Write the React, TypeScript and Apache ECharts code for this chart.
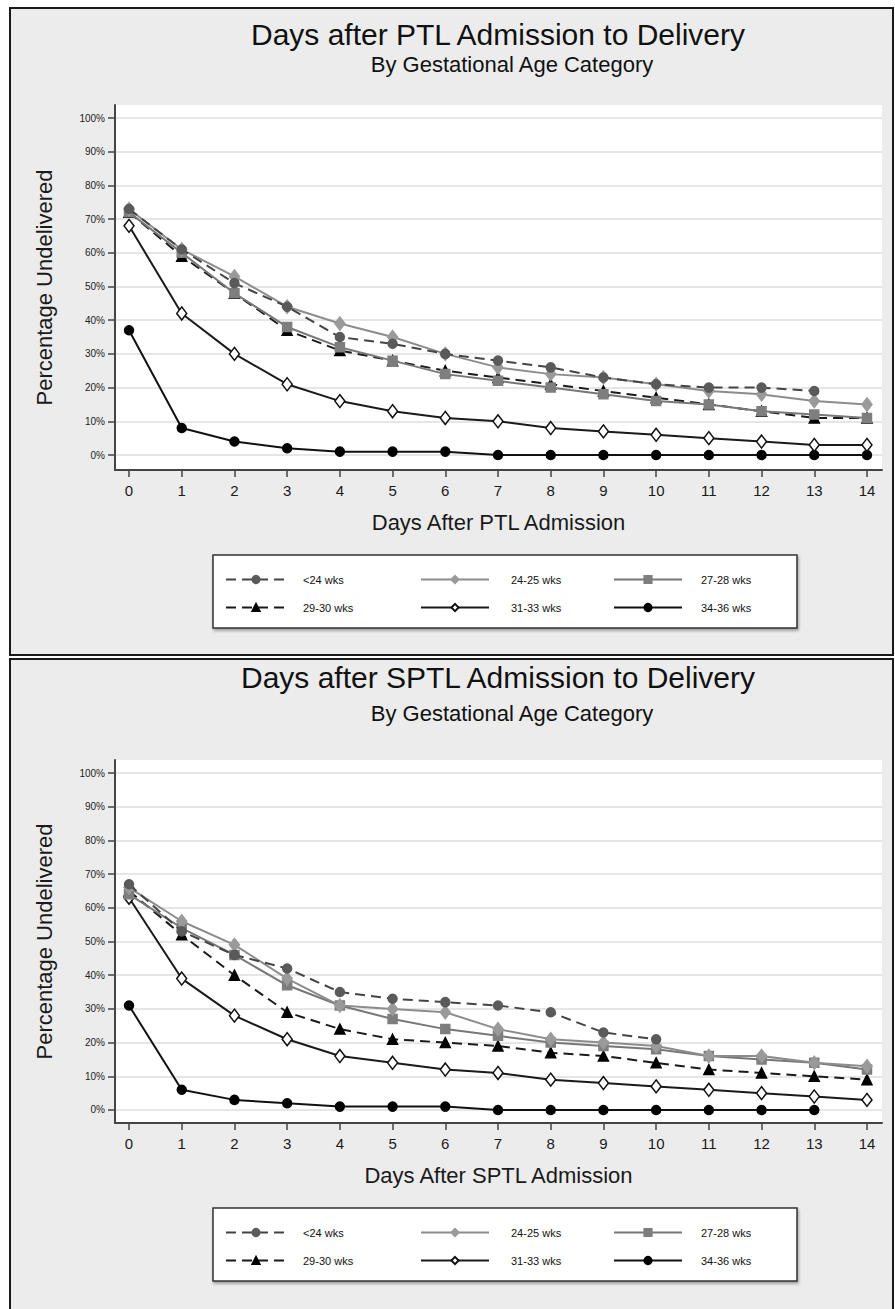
import React, { useEffect, useRef } from "react";
import * as echarts from "echarts";

// ---------- data ----------
const days = [0, 1, 2, 3, 4, 5, 6, 7, 8, 9, 10, 11, 12, 13, 14];
const yTicks = [0, 10, 20, 30, 40, 50, 60, 70, 80, 90, 100];
const groupNames = ["<24 wks", "24-25 wks", "27-28 wks", "29-30 wks", "31-33 wks", "34-36 wks"];

// PTL (top chart)
const ptlLt24 = [73, 61, 51, 44, 35, 33, 30, 28, 26, 23, 21, 20, 20, 19];
const ptl2425 = [73, 61, 53, 44, 39, 35, 30, 26, 24, 23, 21, 19, 18, 16, 15];
const ptl2728 = [72, 60, 48, 38, 32, 28, 24, 22, 20, 18, 16, 15, 13, 12, 11];
const ptl2930 = [72, 59, 48, 37, 31, 28, 25, 23, 21, 19, 17, 15, 13, 11, 11];
const ptl3133 = [68, 42, 30, 21, 16, 13, 11, 10, 8, 7, 6, 5, 4, 3, 3];
const ptl3436 = [37, 8, 4, 2, 1, 1, 1, 0, 0, 0, 0, 0, 0, 0, 0];

// SPTL (bottom chart)
const sptlLt24 = [67, 53, 46, 42, 35, 33, 32, 31, 29, 23, 21];
const sptl2425 = [66, 56, 49, 39, 31, 30, 29, 24, 21, 20, 19, 16, 16, 14, 13];
const sptl2728 = [64, 54, 46, 37, 31, 27, 24, 22, 20, 19, 18, 16, 15, 14, 12];
const sptl2930 = [65, 52, 40, 29, 24, 21, 20, 19, 17, 16, 14, 12, 11, 10, 9];
const sptl3133 = [63, 39, 28, 21, 16, 14, 12, 11, 9, 8, 7, 6, 5, 4, 3];
const sptl3436 = [31, 6, 3, 2, 1, 1, 1, 0, 0, 0, 0, 0, 0, 0];

const ptlSets = [ptlLt24, ptl2425, ptl2728, ptl2930, ptl3133, ptl3436];
const sptlSets = [sptlLt24, sptl2425, sptl2728, sptl2930, sptl3133, sptl3436];

// ---------- styles ----------
const FONT = "Liberation Sans, Arial, sans-serif";
const seriesStyles = [
  { symbol: "circle", size: 9, fill: "#5a5a5a", border: "#5a5a5a", line: "#444", dash: [10, 6] as any },
  { symbol: "diamond", size: [10, 13], fill: "#9a9a9a", border: "#9a9a9a", line: "#8c8c8c", dash: "solid" },
  { symbol: "rect", size: 9, fill: "#7e7e7e", border: "#7e7e7e", line: "#777", dash: "solid" },
  { symbol: "triangle", size: 10, fill: "#000", border: "#000", line: "#1a1a1a", dash: [10, 6] as any },
  { symbol: "diamond", size: [10, 13], fill: "#fff", border: "#111", line: "#1a1a1a", dash: "solid" },
  { symbol: "circle", size: 9, fill: "#000", border: "#000", line: "#111", dash: "solid" },
];

function buildSeries(sets: number[][], gridIndex: number) {
  return sets.map((vals, i) => {
    const s = seriesStyles[i];
    return {
      type: "line",
      name: groupNames[i],
      xAxisIndex: gridIndex,
      yAxisIndex: gridIndex,
      data: vals.map((v, k) => [days[k], v]),
      symbol: s.symbol,
      symbolSize: s.size,
      showAllSymbol: true,
      lineStyle: { color: s.line, width: 2, type: s.dash },
      itemStyle: { color: s.fill, borderColor: s.border, borderWidth: 1.5 },
      z: 3 + (5 - i),
    };
  });
}

function xAxisDef(gridIndex: number, name: string) {
  return {
    type: "value",
    gridIndex,
    min: -0.266,
    max: 14.285,
    name,
    nameLocation: "middle",
    nameGap: 41,
    nameTextStyle: { fontFamily: FONT, fontSize: 22, color: "#1a1a1a" },
    axisLine: { show: true, onZero: false, lineStyle: { color: "#444", width: 2 } },
    axisTick: { show: true, length: 7, customValues: days, lineStyle: { color: "#444", width: 1.5 } },
    axisLabel: { customValues: days, fontFamily: FONT, fontSize: 15, color: "#1a1a1a", margin: 13 },
    splitLine: { show: false },
  };
}

function yAxisDef(gridIndex: number, min: number) {
  return {
    type: "value",
    gridIndex,
    min,
    max: 103.86,
    name: "Percentage Undelivered",
    nameLocation: "middle",
    nameGap: 60,
    nameTextStyle: { fontFamily: FONT, fontSize: 22, color: "#1a1a1a" },
    axisLine: { show: true, onZero: false, lineStyle: { color: "#444", width: 2 } },
    axisTick: { show: true, length: 7, customValues: yTicks, lineStyle: { color: "#444", width: 1.5 } },
    axisLabel: {
      customValues: yTicks,
      formatter: "{value}%",
      fontFamily: FONT,
      fontSize: 10,
      color: "#222",
      margin: 10,
    },
    splitLine: { show: true, lineStyle: { color: "#dedede", width: 1.5 } },
  };
}

function legendDefs(rowTops: number[]) {
  const cols = [
    { left: 225, w: 60, pad: 12 },
    { left: 420, w: 68, pad: 17 },
    { left: 613, w: 68, pad: 14 },
  ];
  return groupNames.map((n, i) => {
    const c = cols[i % 3];
    return {
      data: [n],
      left: c.left,
      top: rowTops[Math.floor(i / 3)],
      orient: "horizontal",
      padding: 0,
      itemWidth: c.w,
      itemHeight: 9,
      selectedMode: false,
      textStyle: { fontFamily: FONT, fontSize: 11, color: "#111", padding: [0, 0, 0, c.pad] },
    };
  });
}

export default function App() {
  const ref = useRef<HTMLDivElement>(null);
  useEffect(() => {
    if (!ref.current) return;
    const chart = echarts.init(ref.current, undefined, { renderer: "svg" });
    const titleStyle = { fontFamily: FONT, fontSize: 30, fontWeight: "normal", color: "#111" };
    const subStyle = { fontFamily: FONT, fontSize: 22, fontWeight: "normal", color: "#111" };
    chart.setOption({
      animation: false,
      backgroundColor: "#fff",
      title: [
        { text: "Days after PTL Admission to Delivery", left: 498, textAlign: "center", top: 19, padding: 0, textStyle: titleStyle },
        { text: "By Gestational Age Category", left: 512, textAlign: "center", top: 53, padding: 0, textStyle: subStyle },
        { text: "Days after SPTL Admission to Delivery", left: 498, textAlign: "center", top: 662, padding: 0, textStyle: titleStyle },
        { text: "By Gestational Age Category", left: 512, textAlign: "center", top: 702, padding: 0, textStyle: subStyle },
      ],
      graphic: [
        { type: "rect", z: -10, shape: { x: 10, y: 8, width: 883, height: 647 }, style: { fill: "#ececec", stroke: "#1a1a1a", lineWidth: 2 } },
        { type: "rect", z: -10, shape: { x: 10, y: 659, width: 883, height: 700 }, style: { fill: "#ececec", stroke: "#1a1a1a", lineWidth: 2 } },
        { type: "rect", z: 1, shape: { x: 213, y: 555, width: 584, height: 73 }, style: { fill: "#fff", stroke: "#333", lineWidth: 1.5, shadowBlur: 3, shadowColor: "rgba(0,0,0,0.35)", shadowOffsetX: 1, shadowOffsetY: 2 } },
        { type: "rect", z: 1, shape: { x: 213, y: 1208, width: 584, height: 73 }, style: { fill: "#fff", stroke: "#333", lineWidth: 1.5, shadowBlur: 3, shadowColor: "rgba(0,0,0,0.35)", shadowOffsetX: 1, shadowOffsetY: 2 } },
      ],
      grid: [
        { left: 115, top: 105, width: 767, height: 365, show: true, backgroundColor: "#fff", borderWidth: 0 },
        { left: 115, top: 760, width: 767, height: 363, show: true, backgroundColor: "#fff", borderWidth: 0 },
      ],
      xAxis: [xAxisDef(0, "Days After PTL Admission"), xAxisDef(1, "Days After SPTL Admission")],
      yAxis: [yAxisDef(0, -4.45), yAxisDef(1, -3.86)],
      legend: [...legendDefs([574, 602]), ...legendDefs([1227, 1255])],
      series: [...buildSeries(ptlSets, 0), ...buildSeries(sptlSets, 1)],
    });
    return () => chart.dispose();
  }, []);
  return (
    <div
      ref={ref}
      style={{ position: "absolute", left: 0, top: 0, width: 895, height: 1309 }}
    />
  );
}
